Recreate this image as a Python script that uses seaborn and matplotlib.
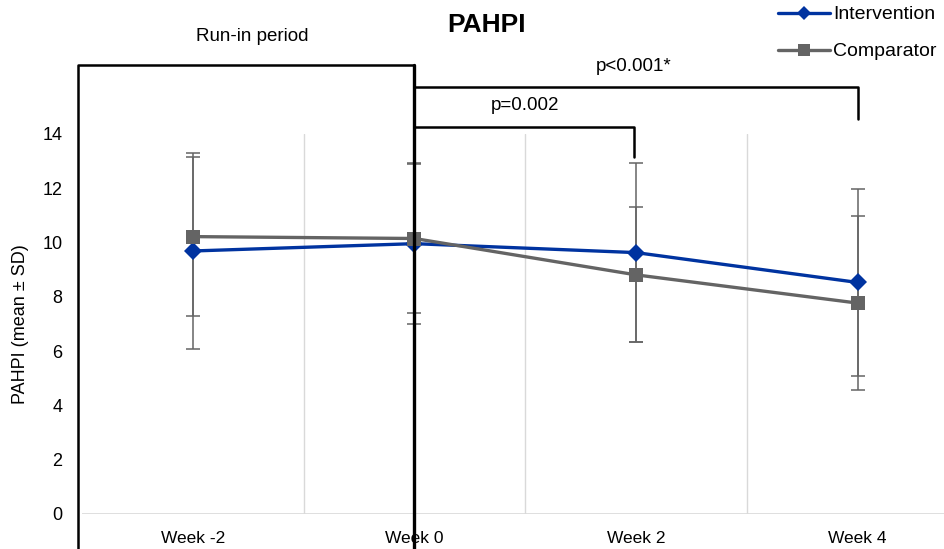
import pandas as pd
import numpy as np
import matplotlib
matplotlib.use("Agg")
import matplotlib.pyplot as plt
import seaborn as sns

# values
weeks = ["Week -2", "Week 0", "Week 2", "Week 4"]
intervention_mean = [9.69, 9.96, 9.63, 8.53]
intervention_sd = [3.62, 2.96, 3.29, 3.45]
comparator_mean = [10.22, 10.15, 8.81, 7.77]
comparator_sd = [2.92, 2.73, 2.49, 3.20]
y_ticks = [0, 2, 4, 6, 8, 10, 12, 14]

BLUE = "#0033a0"
GREY = "#646464"

sns.set_theme(style="white")
plt.rcParams["font.family"] = ["Liberation Sans", "DejaVu Sans"]
plt.rcParams["text.color"] = "black"
plt.rcParams["axes.labelcolor"] = "black"
plt.rcParams["xtick.color"] = "black"
plt.rcParams["ytick.color"] = "black"

df = pd.DataFrame({
    "week": weeks * 2,
    "mean": intervention_mean + comparator_mean,
    "sd": intervention_sd + comparator_sd,
    "group": ["Intervention"] * 4 + ["Comparator"] * 4,
})

fig = plt.figure(figsize=(9.45, 5.49), dpi=100)
W, H = 945, 549
# plot area in pixels: x 82..945, y(0)=514, y(14)=134
ax = fig.add_axes([82 / W, 35 / H, (945 - 82) / W, 380 / H])

# SD error bars (drawn first so markers sit on top)
for grp in ["Intervention", "Comparator"]:
    sub = df[df["group"] == grp]
    ax.errorbar(np.arange(len(sub)), sub["mean"], yerr=sub["sd"], fmt="none",
                ecolor=GREY, elinewidth=1.1, capsize=5, capthick=1.1, zorder=2)

sns.lineplot(data=df, x="week", y="mean", hue="group", style="group",
             markers={"Intervention": "D", "Comparator": "s"}, dashes=False,
             palette={"Intervention": BLUE, "Comparator": GREY},
             linewidth=2.4, markersize=9.5, markeredgewidth=0, sort=False,
             ax=ax, zorder=3, legend=False)

ax.set_xlim(-0.5, 3.5 - (968.5 - 945) / 221)
ax.set_ylim(0, 14)
ax.set_yticks(y_ticks)
ax.set_xticks(range(len(weeks)))
ax.set_xticklabels(weeks, fontsize=12.5)
ax.tick_params(axis="y", labelsize=13, length=0, pad=14)
ax.tick_params(axis="x", length=0, pad=12)
ax.set_xlabel("")
ax.set_ylabel("PAHPI (mean \u00b1 SD)", fontsize=13, labelpad=10)
for s in ax.spines.values():
    s.set_visible(False)
ax.axhline(0, color="#d9d9d9", lw=1.2, zorder=1)
for xv in [0.5, 1.5, 2.5]:
    ax.axvline(xv, color="#d9d9d9", lw=1.0, zorder=1)

# run-in box and significance brackets
k = dict(color="black", lw=1.8, clip_on=False, zorder=5)
x_left = (78 - 82) / 221 - 0.5
ax.plot([1.0, x_left, x_left], [16.54, 16.54, -2], **k)
ax.plot([1.0, 1.0], [16.54, -2], color="black", lw=2.4, clip_on=False, zorder=5)
ax.plot([1.0, 3.0, 3.0], [15.73, 15.73, 14.55], **k)
ax.plot([1.0, 1.99, 1.99], [14.26, 14.26, 13.15], **k)

ax.text(0.27, 17.58, "Run-in period", ha="center", va="center", fontsize=13.5)
ax.text(1.99, 16.5, "p<0.001*", ha="center", va="center", fontsize=13.5)
ax.text(1.5, 15.05, "p=0.002", ha="center", va="center", fontsize=13.5)
fig.text(487 / W, 1 - 25 / H, "PAHPI", ha="center", va="center",
         fontsize=19, fontweight="bold")

handles = [
    plt.Line2D([], [], color=BLUE, lw=2.4, marker="D", markersize=7, markeredgewidth=0),
    plt.Line2D([], [], color=GREY, lw=2.4, marker="s", markersize=8, markeredgewidth=0),
]
fig.legend(handles, ["Intervention", "Comparator"], loc="upper left",
           bbox_to_anchor=(770 / W, 1 + 2 / H), frameon=False, fontsize=14,
           handlelength=2.7, handletextpad=0.15, labelspacing=1.0,
           borderaxespad=0)

fig.savefig("out.png", dpi=100)
